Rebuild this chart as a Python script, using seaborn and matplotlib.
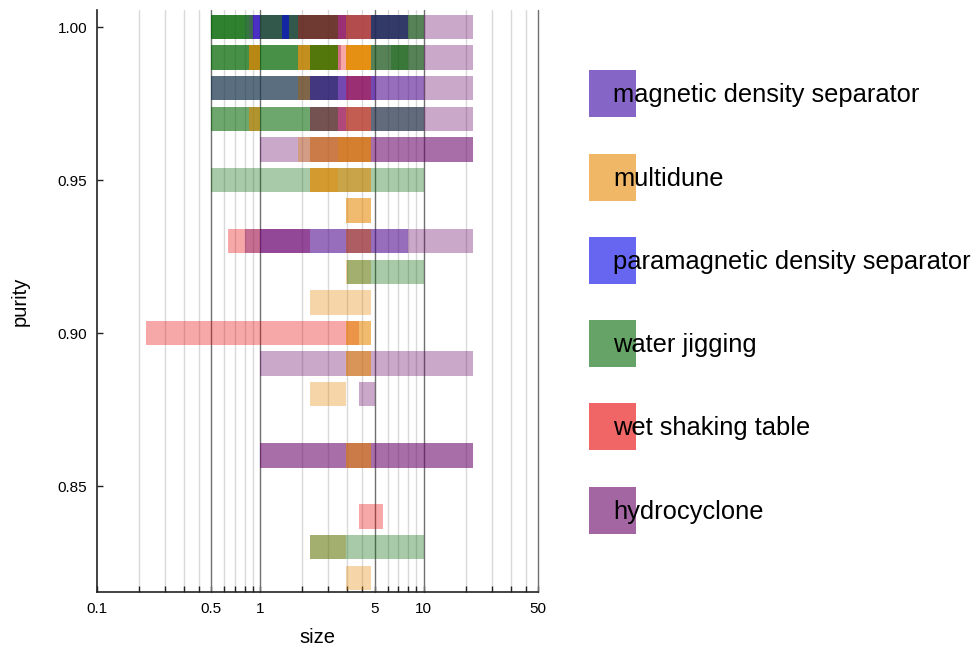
import matplotlib
matplotlib.use("Agg")
import matplotlib.pyplot as plt
from matplotlib.patches import Rectangle
from matplotlib.ticker import NullFormatter
import seaborn as sns

# --- processes and colours -------------------------------------------------
methods = ["magnetic density separator", "multidune",
           "paramagnetic density separator", "water jigging",
           "wet shaking table", "hydrocyclone"]
codes = ["M", "MD", "P", "W", "R", "H"]
method_colors = ["#3400a0", "#e68700", "#0000e6", "#006600", "#e60000", "#660066"]

# --- one record per reported result: process, purity, size range (mm) ------
rec_method = [
    # purity 1.00
    "H", "M", "M", "P", "W", "W", "W", "W", "W", "W", "W", "W", "P", "P", "R", "MD", "M",
    # 0.99
    "W", "W", "W", "MD", "MD", "MD", "MD", "MD", "MD", "W", "W", "H", "R",
    "MD", "MD", "MD", "MD", "MD", "MD", "H", "W", "W", "W",
    # 0.98
    "H", "W", "W", "M", "M", "MD", "R",
    # 0.97
    "W", "W", "MD", "MD", "H", "M", "R", "W", "MD", "W",
    # 0.96
    "H", "H", "MD", "MD", "MD",
    # 0.95
    "W", "MD", "MD", "MD",
    # 0.94
    "MD", "MD",
    # 0.93
    "R", "R", "H", "M", "MD",
    # 0.92
    "MD", "W",
    # 0.91
    "MD",
    # 0.90
    "R", "MD", "MD",
    # 0.89
    "H", "MD", "MD",
    # 0.88
    "MD", "H",
    # 0.86
    "H", "H", "MD", "MD",
    # 0.84
    "R",
    # 0.83
    "MD", "W",
    # 0.82
    "MD",
]
rec_purity = (
    [1.00] * 17 + [0.99] * 23 + [0.98] * 7 + [0.97] * 10 + [0.96] * 5 +
    [0.95] * 4 + [0.94] * 2 + [0.93] * 5 + [0.92] * 2 + [0.91] * 1 +
    [0.90] * 3 + [0.89] * 3 + [0.88] * 2 + [0.86] * 4 + [0.84] * 1 +
    [0.83] * 2 + [0.82] * 1
)
rec_size_min = [
    0.85, 0.8, 0.9, 0.9, 0.5, 0.5, 0.5, 0.5, 1.0, 1.0, 4.75, 4.75, 1.35, 1.35, 1.7, 3.35, 4.75,
    0.5, 0.5, 0.5, 0.85, 0.85, 0.85, 1.7, 1.7, 1.7, 2.0, 2.0, 3.0, 3.0,
    3.35, 3.35, 3.35, 3.35, 3.35, 3.35, 4.75, 4.75, 4.75, 6.3,
    1.7, 0.5, 0.5, 0.5, 2.0, 1.7, 3.35,
    0.5, 0.5, 0.85, 0.85, 2.0, 2.0, 2.0, 2.0, 3.35, 4.75,
    1.0, 2.0, 1.7, 2.0, 3.0,
    0.5, 2.0, 2.0, 2.0,
    3.35, 3.35,
    0.63, 3.35, 0.8, 1.0, 3.35,
    3.35, 3.4,
    2.0,
    0.2, 3.35, 3.35,
    1.0, 3.35, 3.35,
    2.0, 4.0,
    1.0, 1.0, 3.35, 3.35,
    4.0,
    2.0, 2.0,
    3.35,
]
rec_size_max = [
    20, 8, 8, 1.0, 0.9, 0.9, 0.85, 0.8, 3.0, 3.0, 10, 10, 1.5, 1.5, 4.75, 4.75, 8,
    1.7, 3.0, 3.0, 1.0, 1.0, 1.0, 3.0, 3.0, 3.0, 3.0, 3.0, 3.1, 3.35,
    4.75, 4.75, 4.75, 4.75, 4.75, 4.75, 20, 10, 10, 8,
    20, 3.0, 3.0, 5.0, 10, 2.0, 4.75,
    2.0, 2.0, 1.0, 1.0, 20, 10, 4.75, 3.0, 4.75, 10,
    20, 20, 4.75, 4.75, 4.75,
    10, 4.75, 4.75, 3.0,
    4.75, 4.75,
    2.0, 4.75, 20, 8.0, 4.75,
    4.75, 10,
    4.75,
    4.0, 4.75, 4.75,
    20, 4.75, 4.75,
    3.35, 5.0,
    20, 20, 4.75, 4.75,
    5.6,
    3.35, 10,
    4.75,
]

major_ticks = [0.1, 0.5, 1, 5, 10, 50]
major_labels = ["0.1", "0.5", "1", "5", "10", "50"]
minor_ticks = [0.18, 0.26, 0.34, 0.42, 0.6, 0.7, 0.8, 0.9,
               1.8, 2.6, 3.4, 4.2, 6, 7, 8, 9, 18, 26, 34, 42]
purity_ticks = [0.85, 0.90, 0.95, 1.00]

# --- style -------------------------------------------------------------------
sns.set_theme(style="white")
plt.rcParams["font.family"] = ["Liberation Sans", "DejaVu Sans"]
plt.rcParams["text.color"] = "black"
plt.rcParams["axes.labelcolor"] = "black"
plt.rcParams["xtick.color"] = "black"
plt.rcParams["ytick.color"] = "black"

palette = dict(zip(codes, sns.color_palette(method_colors)))

W_PX, H_PX = 976, 651
fig = plt.figure(figsize=(W_PX / 100, H_PX / 100), dpi=100)
ax = fig.add_axes([97 / W_PX, 1 - 592 / H_PX, (538 - 97) / W_PX, (592 - 10) / H_PX])

ax.set_xscale("log")
ax.set_xlim(0.1, 50)
ax.set_ylim(0.81536, 1.00556)

# vertical guides
for t in minor_ticks:
    ax.axvline(t, color="#d9d9d9", lw=1.0, zorder=0.5)
for t in major_ticks[1:]:
    ax.axvline(t, color="#707070", lw=1.0, zorder=0.6, clip_on=False)

# range bars, drawn in record order
for code, pur, lo, hi in zip(rec_method, rec_purity, rec_size_min, rec_size_max):
    ax.barh(pur, hi - lo, left=lo, height=0.008, color=palette[code],
            alpha=0.34, linewidth=0, zorder=2)

ax.set_xticks(major_ticks)
ax.set_xticklabels(major_labels)
ax.set_xticks(minor_ticks, minor=True)
ax.xaxis.set_minor_formatter(NullFormatter())
ax.set_yticks(purity_ticks)
ax.set_yticklabels([f"{v:.2f}" for v in purity_ticks])

ax.tick_params(axis="x", which="both", direction="in", length=4, width=1,
               color="#222222", labelcolor="black", labelsize=11, pad=7, bottom=True)
ax.tick_params(axis="y", which="major", direction="in", length=4.5, width=1,
               color="#222222", labelcolor="black", labelsize=11, pad=7, left=True)

for side in ["top", "right"]:
    ax.spines[side].set_visible(False)
for side in ["left", "bottom"]:
    ax.spines[side].set_color("#222222")
    ax.spines[side].set_linewidth(1.2)

ax.set_xlabel("size", fontsize=14.5, labelpad=9, color="black")
ax.set_ylabel("purity", fontsize=14.5, labelpad=20, color="black")
ax.grid(False)

# legend: swatches with the names laid over them
sw_x, sw_size = 589, 47
sw_tops = [70, 154, 237, 320, 403, 487]
for name, col, top in zip(methods, method_colors, sw_tops):
    fig.add_artist(Rectangle((sw_x / W_PX, 1 - (top + sw_size) / H_PX),
                             sw_size / W_PX, sw_size / H_PX,
                             transform=fig.transFigure, facecolor=col,
                             alpha=0.6, linewidth=0))
    fig.text(613 / W_PX, 1 - (top + sw_size / 2 + 1.2) / H_PX, name,
             fontsize=18.4, va="center", ha="left", color="black")

fig.savefig("out.png", dpi=100)
